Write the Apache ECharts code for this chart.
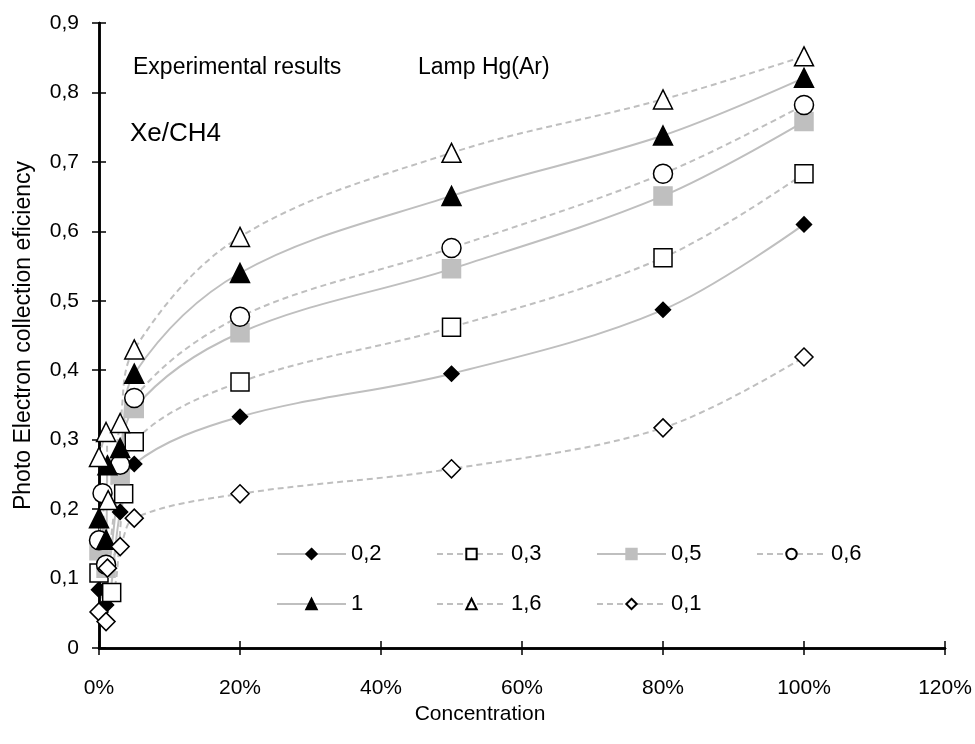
<!DOCTYPE html>
<html>
<head>
<meta charset="utf-8">
<script src="https://cdn.jsdelivr.net/npm/echarts@6/dist/echarts.min.js"></script>
<style>html,body{margin:0;padding:0;background:#fff}#c{width:975px;height:744px}</style>
</head>
<body>
<div id="c"></div>
<script>
// Concentration (%) and efficiency pairs per series
const s02 = [[0,0.084],[1,0.062],[3,0.196],[5,0.265],[20,0.333],[50,0.395],[80,0.487],[100,0.61]];
const s03 = [[0,0.108],[1.8,0.08],[3.5,0.222],[5,0.297],[20,0.383],[50,0.462],[80,0.562],[100,0.683]];
const s05 = [[0,0.14],[1,0.115],[3,0.25],[5,0.345],[20,0.454],[50,0.546],[80,0.651],[100,0.758]];
const s06 = [[0,0.155],[0.5,0.223],[1,0.12],[3,0.264],[5,0.36],[20,0.477],[50,0.576],[80,0.683],[100,0.782]];
const s1  = [[0,0.187],[1,0.156],[1.2,0.263],[3,0.288],[5,0.395],[20,0.54],[50,0.651],[80,0.738],[100,0.821]];
const s16 = [[0,0.275],[1,0.311],[1.3,0.213],[3,0.324],[5,0.43],[20,0.592],[50,0.713],[80,0.79],[100,0.852]];
const s01 = [[0,0.052],[1,0.038],[1.2,0.115],[3,0.146],[5,0.187],[20,0.222],[50,0.258],[80,0.317],[100,0.419]];
const names = ['0,2','0,3','0,5','0,6','1','1,6','0,1'];
const xTicks = [0,20,40,60,80,100,120];
const yTicks = [0,0.1,0.2,0.3,0.4,0.5,0.6,0.7,0.8,0.9];

const FONT = 'Liberation Sans, Arial, sans-serif';
const GRAY = '#bfbfbf';
function mk(name, data, symbol, size, fill, border, dashed) {
  return {
    name, type: 'line', data, smooth: 0.35,
    symbol, symbolSize: size,
    lineStyle: {color: GRAY, width: 2, type: dashed ? [6,4] : 'solid'},
    itemStyle: {color: fill, borderColor: border, borderWidth: 1.5},
    emphasis: {disabled: true}
  };
}
const series = [
  mk(names[0], s02, 'diamond', 15, '#000', '#000', false),
  mk(names[1], s03, 'rect', 18, '#fff', '#000', true),
  mk(names[2], s05, 'rect', 18, GRAY, GRAY, false),
  mk(names[3], s06, 'circle', 19, '#fff', '#000', true),
  mk(names[4], s1, 'triangle', 19, '#000', '#000', false),
  mk(names[5], s16, 'triangle', 19, '#fff', '#000', true),
  mk(names[6], s01, 'diamond', 18, '#fff', '#000', true)
];
const axisLine = {show: true, lineStyle: {color: '#000', width: 2.5}};
const tick = {show: true, inside: true, length: 7, lineStyle: {color: '#000', width: 1.5}};
// one legend box per entry, laid out in two rows of columns
const legendCols = [271, 431, 591, 751];
const legendRows = [538, 588];
const legends = names.map((n, i) => ({
  data: [n], orient: 'horizontal', itemWidth: 69, itemHeight: 13, itemGap: 0,
  textStyle: {fontFamily: FONT, fontSize: 22, color: '#000'},
  left: legendCols[i < 4 ? i : i - 4], top: legendRows[i < 4 ? 0 : 1]
}));
const chart = echarts.init(document.getElementById('c'));
chart.setOption({
  animation: false,
  backgroundColor: '#fff',
  grid: {left: 99, right: 30, top: 23, bottom: 96},
  xAxis: [{
    type: 'value', min: xTicks[0], max: xTicks[xTicks.length-1], interval: 20,
    axisLine, axisTick: tick, splitLine: {show: false},
    axisLabel: {formatter: v => v + '%', fontFamily: FONT, fontSize: 21, color: '#000', margin: 30},
    name: 'Concentration', nameLocation: 'middle', nameGap: 43,
    nameTextStyle: {fontFamily: FONT, fontSize: 21, color: '#000', padding: [0, 84, 0, 0]}
  }, {
    type: 'value', position: 'top', min: 0, max: 120, interval: 20,
    axisLine, axisTick: tick, axisLabel: {show: false}, splitLine: {show: false}
  }],
  yAxis: [{
    type: 'value', min: yTicks[0], max: yTicks[yTicks.length-1], interval: 0.1,
    axisLine, axisTick: tick, splitLine: {show: false},
    axisLabel: {formatter: v => v === 0 ? '0' : v.toFixed(1).replace('.', ','), fontFamily: FONT, fontSize: 21, color: '#000', margin: 20},
    name: 'Photo Electron collection eficiency', nameLocation: 'middle', nameGap: 64,
    nameTextStyle: {fontFamily: FONT, fontSize: 23, color: '#000'}
  }, {
    type: 'value', position: 'right', min: 0, max: 0.9, interval: 0.1,
    axisLine, axisTick: tick, axisLabel: {show: false}, splitLine: {show: false}
  }],
  legend: legends,
  graphic: [
    {type: 'text', left: 133, top: 56, style: {text: 'Experimental results', font: '23px ' + FONT, fill: '#000'}},
    {type: 'text', left: 418, top: 56, style: {text: 'Lamp Hg(Ar)', font: '23px ' + FONT, fill: '#000'}},
    {type: 'text', left: 130, top: 121, style: {text: 'Xe/CH4', font: '26px ' + FONT, fill: '#000'}}
  ],
  series
});
</script>
</body>
</html>
